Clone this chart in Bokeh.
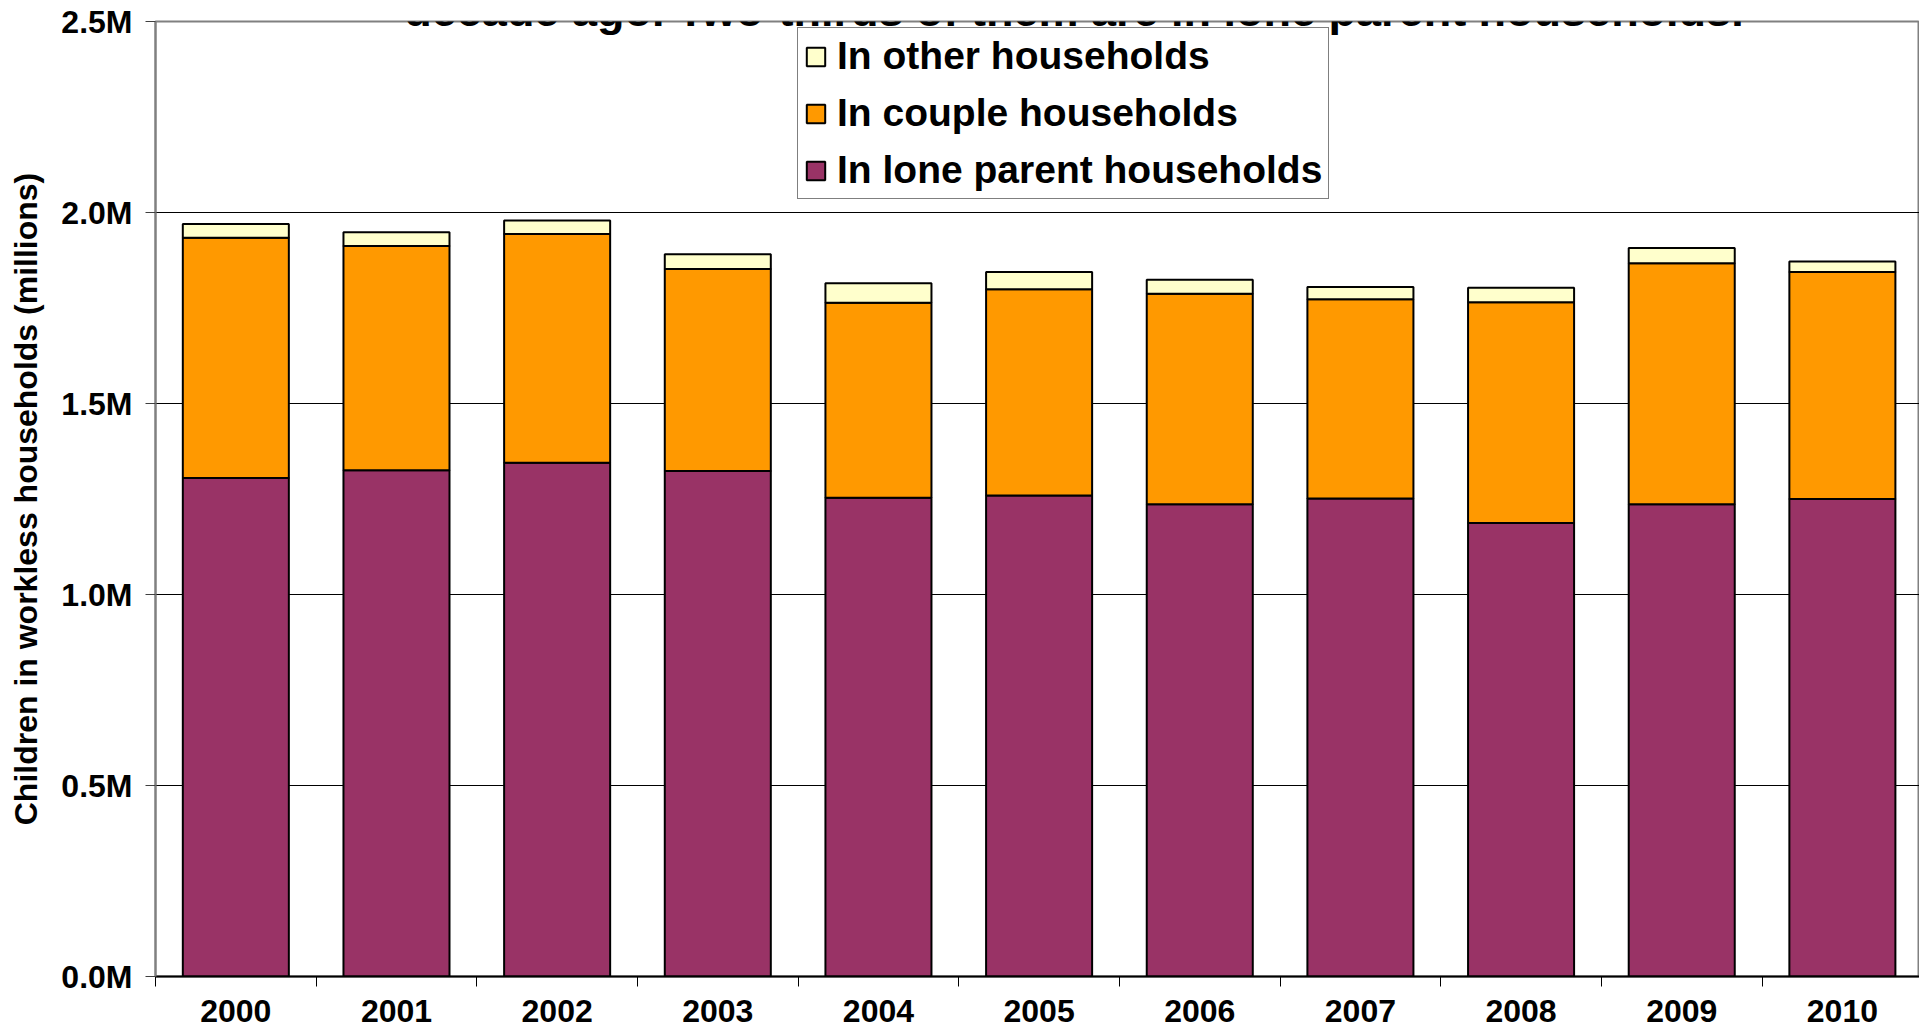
from bokeh.plotting import figure
from bokeh.models import (Range1d, FixedTicker, PrintfTickFormatter, Legend,
                          LegendItem, Label, ColumnDataSource)
from bokeh.embed import file_html
from bokeh.resources import INLINE

# ---- data (millions of children) ----
years = ["2000", "2001", "2002", "2003", "2004", "2005",
         "2006", "2007", "2008", "2009", "2010"]
lone_parent = [1.305, 1.325, 1.345, 1.323, 1.253, 1.259,
               1.236, 1.251, 1.187, 1.236, 1.250]
couple = [0.629, 0.587, 0.599, 0.529, 0.511, 0.540,
          0.551, 0.522, 0.578, 0.631, 0.594]
other = [0.036, 0.036, 0.035, 0.039, 0.051, 0.045,
         0.037, 0.032, 0.038, 0.040, 0.028]
y_ticks = [0.0, 0.5, 1.0, 1.5, 2.0, 2.5]
title_text = "decade ago. Two-thirds of them are in lone parent households."
y_label = "Children in workless households (millions)"

FONT = "Liberation Sans"

x = [i + 0.5 for i in range(len(years))]
source = ColumnDataSource(dict(x=x, lone=lone_parent, couple=couple, other=other))

p = figure(width=1919, height=1028, output_backend="svg", toolbar_location=None,
           x_range=Range1d(0, 10.98), y_range=Range1d(0, 2.5),
           min_border_left=155, min_border_right=0,
           min_border_top=21, min_border_bottom=52)
p.background_fill_color = "white"
p.border_fill_color = "white"
p.outline_line_color = "#808080"
p.outline_line_width = 2

rs = p.vbar_stack(["lone", "couple", "other"], x="x", width=0.66, source=source,
                  fill_color=["#993366", "#FF9900", "#FFFFCC"],
                  line_color="black", line_width=2)

# x axis
p.xaxis.ticker = FixedTicker(ticks=x, minor_ticks=list(range(0, 11)))
p.xaxis.major_label_overrides = {xi: yr for xi, yr in zip(x, years)}
p.xaxis.major_tick_out = 0
p.xaxis.major_tick_in = 0
p.xaxis.minor_tick_out = 10
p.xaxis.minor_tick_in = 0
p.xaxis.minor_tick_line_color = "black"
p.xaxis.minor_tick_line_width = 1
p.xaxis.axis_line_color = "black"
p.xaxis.axis_line_width = 2
p.xaxis.major_label_standoff = 13
p.xaxis.major_label_text_font = FONT
p.xaxis.major_label_text_font_style = "bold"
p.xaxis.major_label_text_font_size = "32px"
p.xaxis.major_label_text_color = "black"
p.xgrid.visible = False

# y axis
p.yaxis.ticker = FixedTicker(ticks=y_ticks)
p.yaxis.formatter = PrintfTickFormatter(format="%.1fM")
p.yaxis.major_tick_out = 10
p.yaxis.major_tick_in = 0
p.yaxis.major_tick_line_color = "#404040"
p.yaxis.minor_tick_line_color = None
p.yaxis.axis_line_color = "#808080"
p.yaxis.axis_line_width = 2
p.yaxis.major_label_standoff = 13
p.yaxis.major_label_text_font = FONT
p.yaxis.major_label_text_font_style = "bold"
p.yaxis.major_label_text_font_size = "32px"
p.yaxis.major_label_text_color = "black"
p.yaxis.axis_label = y_label
p.yaxis.axis_label_text_font = FONT
p.yaxis.axis_label_text_font_style = "bold"
p.yaxis.axis_label_text_font_size = "32px"
p.yaxis.axis_label_text_color = "black"
p.yaxis.axis_label_standoff = 14
p.ygrid.ticker = FixedTicker(ticks=y_ticks)
p.ygrid.grid_line_color = "black"
p.ygrid.grid_line_width = 1

# legend (top entry = top of stack)
items = [LegendItem(label="In other households", renderers=[rs[2]]),
         LegendItem(label="In couple households", renderers=[rs[1]]),
         LegendItem(label="In lone parent households", renderers=[rs[0]])]
legend = Legend(items=items, location=(642, 777))
legend.label_text_font = FONT
legend.label_text_font_style = "bold"
legend.label_text_font_size = "39px"
legend.label_text_color = "black"
legend.glyph_width = 23
legend.glyph_height = 23
legend.label_standoff = 10
legend.spacing = 13
legend.padding = 6
legend.margin = 0
legend.border_line_color = "black"
legend.border_line_width = 1
legend.background_fill_alpha = 1
p.add_layout(legend)

# title (only the last line is visible, cut by the top of the page)
p.add_layout(Label(x=5.717, y=2.528, text=title_text, text_align="center",
                   text_baseline="alphabetic", text_font=FONT,
                   text_font_style="bold", text_font_size="45px",
                   text_color="black"))

open("out.html", "w").write(file_html(p, INLINE))
